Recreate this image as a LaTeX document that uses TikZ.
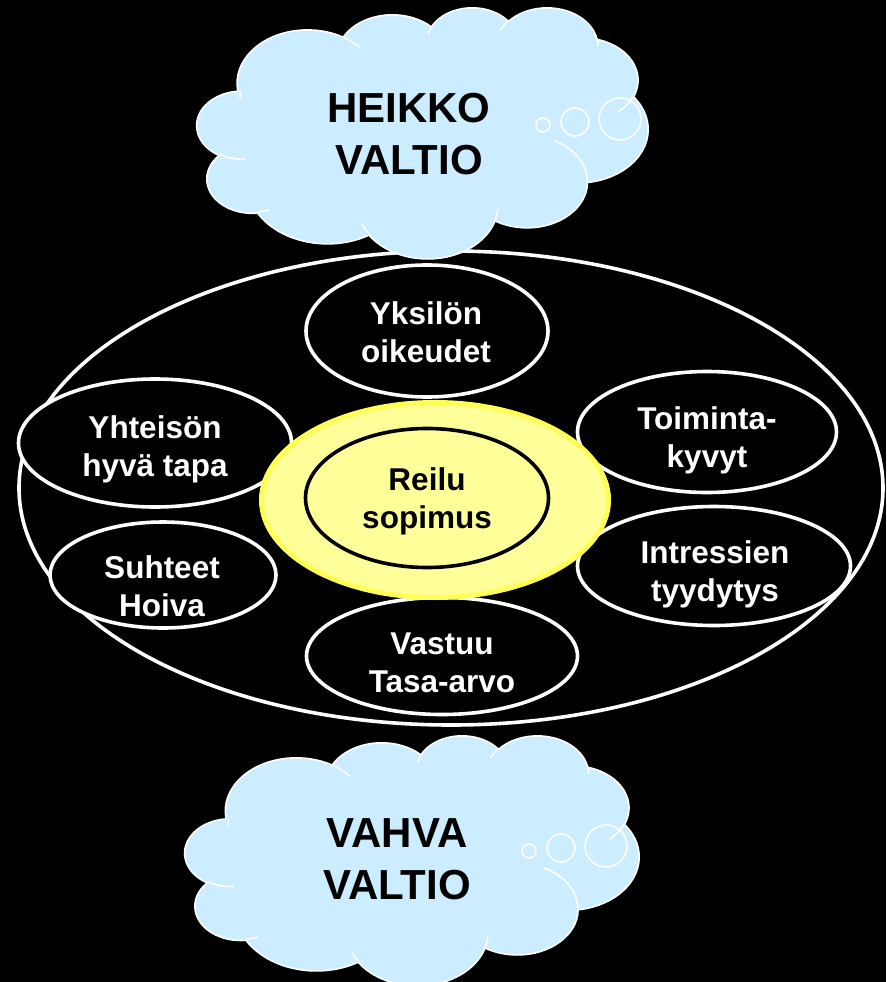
\documentclass[tikz,border=0pt]{standalone}
\usepackage{fontspec}
\setmainfont{Liberation Sans}
\usetikzlibrary{shapes.geometric}
\definecolor{cloudblue}{HTML}{CCECFF}
\definecolor{glowfill}{HTML}{FFFF99}
\definecolor{glowline}{HTML}{FFFF55}
% visual-angle (DrawingML) arc converted to TikZ parametric arc
\newcommand\cloudarc[4]{%
  \pgfextra{%
    \pgfmathparse{atan2((#1)*sin(#3),(#2)*cos(#3))}\xdef\cldA{\pgfmathresult}%
    \pgfmathparse{atan2((#1)*sin((#3)+(#4)),(#2)*cos((#3)+(#4)))}\xdef\cldB{\pgfmathresult}%
    \pgfmathparse{\cldA+mod(\cldB-\cldA+720,360)}\xdef\cldB{\pgfmathresult}%
  }%
  arc[start angle=\cldA, end angle=\cldB, x radius=#1, y radius=#2]}
\newcommand\cloudshape{%
  \filldraw[cloudbody] (39.00,143.70)
    \cloudarc{67.53}{91.90}{-190.4875}{123.7805}
    \cloudarc{53.33}{72.67}{-144.1024}{89.9452}
    \cloudarc{43.65}{59.45}{-145.8079}{99.7230}
    \cloudarc{48.57}{65.95}{-130.9861}{117.2417}
    \cloudarc{53.33}{72.73}{-78.7089}{109.0269}
    \cloudarc{67.75}{92.20}{-46.2673}{130.2690}
    \cloudarc{57.85}{78.67}{0.6250}{114.0333}
    \cloudarc{67.52}{92.15}{22.4516}{115.1726}
    \cloudarc{77.20}{105.43}{66.2426}{75.7110}
    \cloudarc{43.60}{59.18}{-274.9421}{146.7356}
    \cloudarc{43.45}{59.45}{-246.8285}{152.5189} -- cycle;
  \draw[cloudedge]
    (46.93,261.77) \cloudarc{43.45}{59.45}{86.7420}{26.4295}
    (69.28,348.99) \cloudarc{43.60}{59.18}{73.6105}{11.4475}
    (164.78,390.90) \cloudarc{67.52}{92.15}{137.6242}{14.0811}
    (288.27,347.51) \cloudarc{67.52}{92.15}{6.4533}{15.9984}
    (341.29,229.54) \cloudarc{57.85}{78.67}{-70.2924}{70.9174}
    (417.98,153.54) \cloudarc{53.33}{72.73}{30.3180}{27.7515}
    (383.24,54.26) \cloudarc{48.57}{65.95}{-13.7443}{14.8589}
    (290.78,39.52) \cloudarc{48.57}{65.95}{-149.1815}{18.1954}
    (221.41,47.20) \cloudarc{43.65}{59.45}{-163.4943}{17.6864}
    (140.00,51.92) \cloudarc{67.53}{91.90}{-66.7103}{17.1548}
    (41.27,157.89) \cloudarc{67.53}{91.90}{177.2318}{11.4029};
}
\newcommand\lnstrut{\rule[-7pt]{0pt}{35pt}}
\newcommand\bigstrut{\rule[-10pt]{0pt}{48pt}}
\begin{document}
\begin{tikzpicture}[x=1pt,y=-1pt,
  oval/.style={ellipse, draw=white, line width=3.6pt, fill=black, inner sep=0pt},
  lbl/.style={text=white, align=center, inner sep=0pt,
    font=\bfseries\fontsize{31.5}{38}\selectfont},
  cloudtext/.style={text=black, align=center, inner sep=0pt,
    font=\bfseries\fontsize{42}{52}\selectfont},
  cloudbody/.style={fill=cloudblue, draw=white, line width=1.6pt},
  cloudedge/.style={draw=white, line width=1.6pt},
  bubble/.style={draw=white, line width=1.6pt}]
\fill[black] (0,0) rectangle (886,982);
\useasboundingbox (0,0) rectangle (886,982);

% outer frame ellipse
\node[oval, fill=none, minimum width=864pt, minimum height=474pt] (frame) at (451,488) {};

% satellite ellipses
\node[oval, minimum width=242pt, minimum height=132pt] (yks) at (427,331) {};
\node[oval, minimum width=273pt, minimum height=128pt] (yht) at (155,443) {};
\node[oval, minimum width=226pt, minimum height=106pt] (suh) at (163,575) {};
\node[oval, minimum width=259pt, minimum height=121pt] (toi) at (707,432) {};
\node[oval, minimum width=273pt, minimum height=119pt] (int) at (714,566) {};
\node[oval, minimum width=271pt, minimum height=117pt] (vas) at (442,656) {};

% centre
\node[ellipse, fill=glowfill, draw=glowline, line width=5pt, inner sep=0pt,
      minimum width=347pt, minimum height=195pt] (glow) at (435,500) {};
\node[ellipse, draw=black, line width=3.6pt, inner sep=0pt,
      minimum width=243pt, minimum height=139pt] (core) at (427,498) {};

% labels
\node[lbl] (yks-t) at (426,333) {\lnstrut Yksilön\\\lnstrut oikeudet};
\node[lbl] (yht-t) at (155,447) {\lnstrut Yhteisön\\\lnstrut hyvä tapa};
\node[lbl] (suh-t) at (162,587) {\lnstrut Suhteet\\\lnstrut Hoiva};
\node[lbl] (toi-t) at (707,438) {\lnstrut Toiminta-\\\lnstrut kyvyt};
\node[lbl] (int-t) at (715,572) {\lnstrut Intressien\\\lnstrut tyydytys};
\node[lbl] (vas-t) at (442,663) {\lnstrut Vastuu\\\lnstrut Tasa-arvo};
\node[lbl, text=black] (core-t) at (427,498.5) {\lnstrut Reilu\\\lnstrut sopimus};

% top cloud
\begin{scope}[shift={(197,7)}, x=1.04398pt, y=-0.58102pt]
  \cloudshape
\end{scope}
\draw[bubble] (543,125) circle[radius=7] (575,122) circle[radius=14] (620,119) circle[radius=21];
\node[cloudtext] (weak) at (409,134) {\bigstrut HEIKKO\\\bigstrut VALTIO};

% bottom cloud
\begin{scope}[shift={(185,735)}, x=1.05093pt, y=-0.57870pt]
  \cloudshape
\end{scope}
\draw[bubble] (529,851) circle[radius=7] (561,848) circle[radius=14] (606,846) circle[radius=21];
\node[cloudtext] (strong) at (397,859) {\bigstrut VAHVA\\\bigstrut VALTIO};
\end{tikzpicture}
\end{document}
